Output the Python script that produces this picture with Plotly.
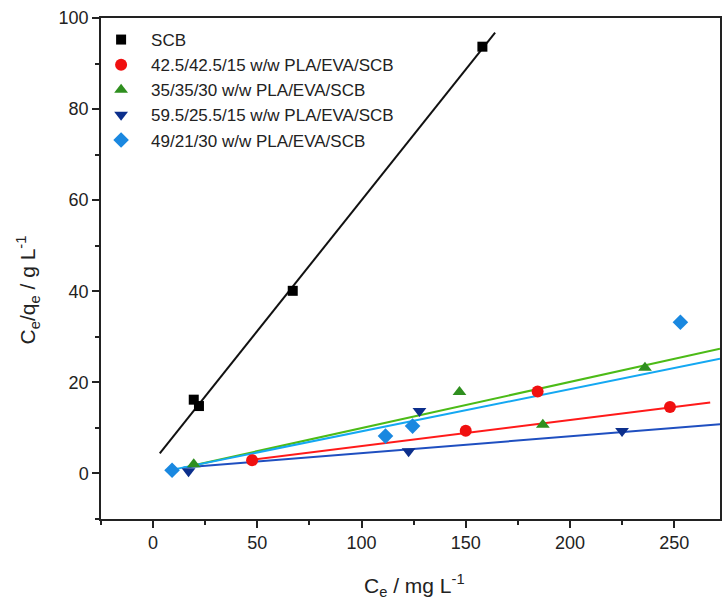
import plotly.graph_objects as go

# ---- data ----
names = ["SCB", "42.5/42.5/15 w/w PLA/EVA/SCB", "35/35/30 w/w PLA/EVA/SCB",
         "59.5/25.5/15 w/w PLA/EVA/SCB", "49/21/30 w/w PLA/EVA/SCB"]

scb_x = [19.5, 22.0, 67.0, 158.0]
scb_y = [16.2, 14.8, 40.1, 93.7]

red_x = [47.5, 150.0, 184.5, 248.0]
red_y = [2.9, 9.4, 18.0, 14.6]

green_x = [19.5, 147.0, 187.0, 236.0]
green_y = [2.0, 17.9, 10.7, 23.2]

navy_x = [17.0, 122.6, 127.8, 225.0]
navy_y = [0.5, 4.9, 13.7, 9.3]

lblue_x = [9.1, 111.5, 124.5, 253.0]
lblue_y = [0.7, 8.2, 10.4, 33.2]

# linear fit lines (endpoints)
scb_fit_x = [3.2, 164.1]
scb_fit_y = [4.4, 96.8]
red_fit_x = [47.5, 267.3]
red_fit_y = [3.0, 15.6]
green_fit_x = [18.5, 272.0]
green_fit_y = [1.7, 27.4]
navy_fit_x = [14.6, 272.0]
navy_fit_y = [1.3, 10.8]
lblue_fit_x = [10.0, 272.0]
lblue_fit_y = [0.9, 25.2]

x_ticks = [0, 50, 100, 150, 200, 250]
x_minor = [-25, 25, 75, 125, 175, 225]
y_ticks = [0, 20, 40, 60, 80, 100]
y_minor = [-10, 10, 30, 50, 70, 90]

x_title = "C<sub>e</sub> / mg L<sup>-1</sup>"
y_title = "C<sub>e</sub>/q<sub>e</sub> / g L<sup>-1</sup>"

marker_colors = ["#000000", "#f01010", "#2f8f1f", "#0c2f8c", "#1a88e0"]
line_colors = ["#111111", "#ff1a1a", "#4cbb17", "#1f4fc0", "#14a8f2"]
symbols = ["square", "circle", "triangle-up", "triangle-down", "diamond"]
marker_sizes = [10, 12, 12, 12, 12]

fig = go.Figure()

fits = [(scb_fit_x, scb_fit_y), (red_fit_x, red_fit_y), (green_fit_x, green_fit_y),
        (navy_fit_x, navy_fit_y), (lblue_fit_x, lblue_fit_y)]
for (fx, fy), lc in zip(fits, line_colors):
    fig.add_trace(go.Scatter(x=fx, y=fy, mode="lines", line=dict(color=lc, width=2),
                             showlegend=False, hoverinfo="skip"))

pts = [(scb_x, scb_y), (red_x, red_y), (green_x, green_y), (navy_x, navy_y), (lblue_x, lblue_y)]
for (px, py), nm, mc, sym, ms in zip(pts, names, marker_colors, symbols, marker_sizes):
    fig.add_trace(go.Scatter(x=px, y=py, mode="markers", name=nm,
                             marker=dict(color=mc, symbol=sym, size=ms, line=dict(width=0))))

font_color = "#222222"
fig.update_layout(
    width=722, height=606,
    margin=dict(l=101, r=0, t=18, b=87),
    plot_bgcolor="white", paper_bgcolor="white",
    font=dict(family="Liberation Sans, Arial, sans-serif", size=18, color=font_color),
    legend=dict(x=-0.016, y=0.992, xanchor="left", yanchor="top",
                bgcolor="rgba(0,0,0,0)", font=dict(size=17, color=font_color),
                itemwidth=50, tracegroupgap=0),
    showlegend=True,
    annotations=[
        dict(text=y_title, xref="paper", yref="paper", x=-0.119, y=0.457,
             xanchor="center", yanchor="middle", textangle=-90,
             showarrow=False, font=dict(size=21, color=font_color)),
        dict(text=x_title, xref="paper", yref="paper", x=0.507, y=-0.132,
             xanchor="center", yanchor="middle",
             showarrow=False, font=dict(size=21, color=font_color)),
    ],
)
fig.update_xaxes(
    range=[-25, 272], tickvals=x_ticks, ticks="outside", ticklen=7, tickwidth=1.5,
    tickcolor="#222", showline=True, linecolor="#222", linewidth=1.5, mirror=True,
    showgrid=False, zeroline=False,
    minor=dict(tickvals=x_minor, ticks="outside", ticklen=4, tickcolor="#222", showgrid=False),
    tickfont=dict(size=18),
)
fig.update_yaxes(
    range=[-10, 100], tickvals=y_ticks, ticks="outside", ticklen=7, tickwidth=1.5,
    tickcolor="#222", showline=True, linecolor="#222", linewidth=1.5, mirror=True,
    showgrid=False, zeroline=False,
    minor=dict(tickvals=y_minor, ticks="outside", ticklen=4, tickcolor="#222", showgrid=False),
    tickfont=dict(size=18),
)

fig.write_html("out.html", config={"displayModeBar": False},
               post_script="document.body.style.margin='0';document.body.style.overflow='hidden';")
